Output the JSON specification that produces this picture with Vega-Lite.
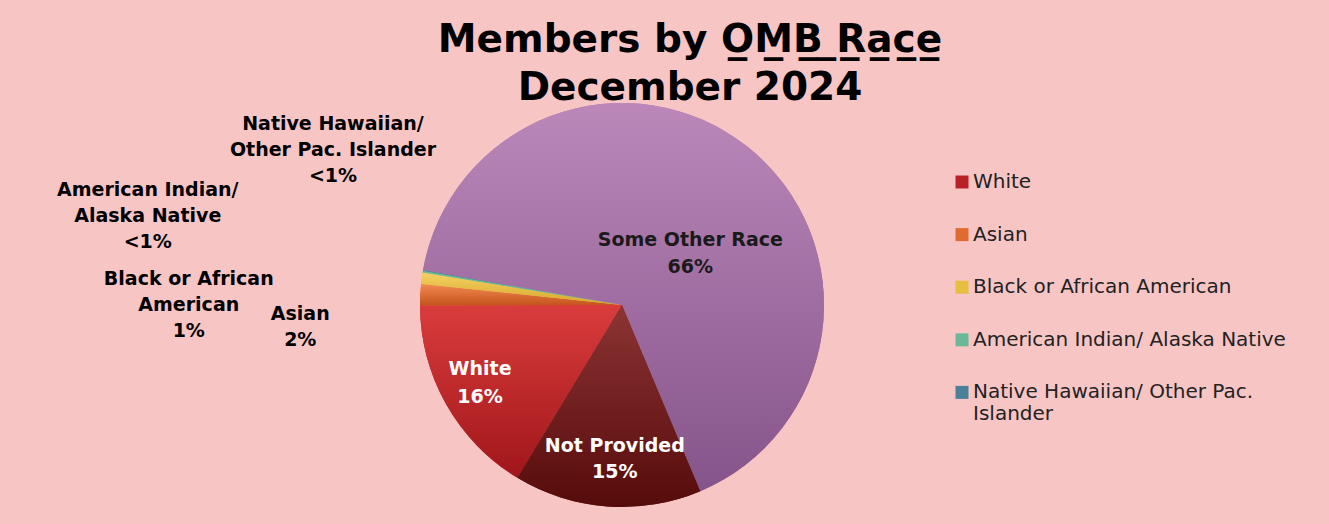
{
  "$schema": "https://vega.github.io/schema/vega-lite/v6.json",
  "autosize": {"type": "none"},
  "padding": {"left": 0, "top": 130, "right": 85, "bottom": 44},
  "width": 1244,
  "height": 350,
  "background": "#F8C5C5",
  "config": {"view": {"stroke": null}},
  "title": {
    "text": ["Members by O\u0332M\u0332B\u0332 \u0332R\u0332a\u0332c\u0332e\u0332", "December 2024"],
    "font": "DejaVu Sans",
    "fontSize": 39,
    "fontWeight": "bold",
    "color": "#000000",
    "lineHeight": 48,
    "anchor": "middle",
    "baseline": "alphabetic",
    "dx": 68,
    "dy": 167,
    "offset": 20
  },
  "data": {
    "values": [
      {"race": "White", "value": 16.3, "ord": 1, "label": "White\n16%"},
      {"race": "Asian", "value": 1.7, "ord": 2, "label": "Asian\n2%"},
      {"race": "Black or African American", "value": 0.9, "ord": 3, "label": "Black or African\nAmerican\n1%"},
      {"race": "American Indian/ Alaska Native", "value": 0.15, "ord": 4, "label": "American Indian/\nAlaska Native\n<1%"},
      {"race": "Native Hawaiian/ Other Pac. Islander", "value": 0.05, "ord": 5, "label": "Native Hawaiian/\nOther Pac. Islander\n<1%"},
      {"race": "Some Other Race", "value": 65.9, "ord": 6, "label": "Some Other Race\n66%"},
      {"race": "Not Provided", "value": 15.0, "ord": 7, "label": "Not Provided\n15%"}
    ]
  },
  "encoding": {
    "theta": {"field": "value", "type": "quantitative", "stack": true, "scale": {"range": [3.686, 9.969]}},
    "order": {"field": "ord", "type": "quantitative"},
    "detail": {"field": "race", "type": "nominal"}
  },
  "layer": [
    {
      "mark": {"type": "arc", "outerRadius": 202, "strokeWidth": 0},
      "encoding": {
        "color": {
          "field": "race",
          "type": "nominal",
          "scale": {
            "domain": ["White", "Asian", "Black or African American", "American Indian/ Alaska Native", "Native Hawaiian/ Other Pac. Islander", "Some Other Race", "Not Provided"],
            "range": ["#B82226", "#E06A30", "#E6BE40", "#6AB898", "#4A8098", "#A77AA8", "#6E1E1E"]
          },
          "legend": {
            "orient": "none",
            "legendX": 952,
            "legendY": 42,
            "direction": "vertical",
            "title": null,
            "values": ["White", "Asian", "Black or African American", "American Indian/ Alaska Native", "Native Hawaiian/ Other Pac. Islander"],
            "symbolType": "square",
            "symbolSize": 169,
            "symbolStrokeWidth": 0,
            "labelFont": "DejaVu Sans",
            "labelFontSize": 20,
            "labelColor": "#222222",
            "labelOffset": 1,
            "labelLimit": 400,
            "rowPadding": 32.6,
            "labelExpr": "datum.label == 'Native Hawaiian/ Other Pac. Islander' ? ['Native Hawaiian/ Other Pac.', 'Islander'] : datum.label"
          }
        }
      }
    },
    {
      "mark": {"type": "arc", "outerRadius": 202, "strokeWidth": 0},
      "encoding": {
        "fill": {
          "condition": [
            {"test": "datum.race === 'White'", "value": {"gradient": "linear", "x1": 0, "y1": 0, "x2": 0, "y2": 1, "stops": [{"offset": 0, "color": "#DA3C3C"}, {"offset": 1, "color": "#A0161A"}]}},
            {"test": "datum.race === 'Asian'", "value": {"gradient": "linear", "x1": 0, "y1": 0, "x2": 0, "y2": 1, "stops": [{"offset": 0, "color": "#F28A52"}, {"offset": 1, "color": "#C4541C"}]}},
            {"test": "datum.race === 'Black or African American'", "value": {"gradient": "linear", "x1": 0, "y1": 0, "x2": 0, "y2": 1, "stops": [{"offset": 0, "color": "#F6D262"}, {"offset": 1, "color": "#D6A62E"}]}},
            {"test": "datum.race === 'American Indian/ Alaska Native'", "value": "#6CBA9A"},
            {"test": "datum.race === 'Native Hawaiian/ Other Pac. Islander'", "value": "#4A8098"},
            {"test": "datum.race === 'Some Other Race'", "value": {"gradient": "linear", "x1": 0, "y1": 0, "x2": 0, "y2": 1, "stops": [{"offset": 0, "color": "#BC88BA"}, {"offset": 1, "color": "#85548A"}]}},
            {"test": "datum.race === 'Not Provided'", "value": {"gradient": "linear", "x1": 0, "y1": 0, "x2": 0, "y2": 1, "stops": [{"offset": 0, "color": "#8C3434"}, {"offset": 1, "color": "#560B0B"}]}}
          ],
          "value": "#999999"
        }
      }
    },
    {
      "mark": {"type": "text", "radius": 100, "dx": 6, "dy": 13, "font": "DejaVu Sans", "fontWeight": "bold", "fontSize": 19, "lineBreak": "\n", "lineHeight": 27, "fill": "#1A1A1A", "align": "center", "baseline": "middle"},
      "encoding": {"text": {"condition": {"test": "datum.race === 'Some Other Race'", "field": "label", "type": "nominal"}, "value": ""}}
    },
    {
      "mark": {"type": "text", "radius": 163, "dy": -16, "font": "DejaVu Sans", "fontWeight": "bold", "fontSize": 19, "lineBreak": "\n", "lineHeight": 28, "fill": "#FFFFFF", "align": "center", "baseline": "middle"},
      "encoding": {"text": {"condition": {"test": "datum.race === 'White'", "field": "label", "type": "nominal"}, "value": ""}}
    },
    {
      "mark": {"type": "text", "radius": 153, "dx": 4, "dy": -12, "font": "DejaVu Sans", "fontWeight": "bold", "fontSize": 19, "lineBreak": "\n", "lineHeight": 26, "fill": "#FFFFFF", "align": "center", "baseline": "middle"},
      "encoding": {"text": {"condition": {"test": "datum.race === 'Not Provided'", "field": "label", "type": "nominal"}, "value": ""}}
    },
    {
      "mark": {"type": "text", "radius": 202, "dx": -120, "dy": 19, "font": "DejaVu Sans", "fontWeight": "bold", "fontSize": 19, "lineBreak": "\n", "lineHeight": 26, "fill": "#000000", "align": "center", "baseline": "middle"},
      "encoding": {"text": {"condition": {"test": "datum.race === 'Asian'", "field": "label", "type": "nominal"}, "value": ""}}
    },
    {
      "mark": {"type": "text", "radius": 202, "dx": -233, "dy": 1, "font": "DejaVu Sans", "fontWeight": "bold", "fontSize": 19, "lineBreak": "\n", "lineHeight": 26, "fill": "#000000", "align": "center", "baseline": "middle"},
      "encoding": {"text": {"condition": {"test": "datum.race === 'Black or African American'", "field": "label", "type": "nominal"}, "value": ""}}
    },
    {
      "mark": {"type": "text", "radius": 202, "dx": -275, "dy": -82, "font": "DejaVu Sans", "fontWeight": "bold", "fontSize": 19, "lineBreak": "\n", "lineHeight": 26, "fill": "#000000", "align": "center", "baseline": "middle"},
      "encoding": {"text": {"condition": {"test": "datum.race === 'American Indian/ Alaska Native'", "field": "label", "type": "nominal"}, "value": ""}}
    },
    {
      "mark": {"type": "text", "radius": 202, "dx": -90, "dy": -146, "font": "DejaVu Sans", "fontWeight": "bold", "fontSize": 19, "lineBreak": "\n", "lineHeight": 26, "fill": "#000000", "align": "center", "baseline": "middle"},
      "encoding": {"text": {"condition": {"test": "datum.race === 'Native Hawaiian/ Other Pac. Islander'", "field": "label", "type": "nominal"}, "value": ""}}
    }
  ]
}
